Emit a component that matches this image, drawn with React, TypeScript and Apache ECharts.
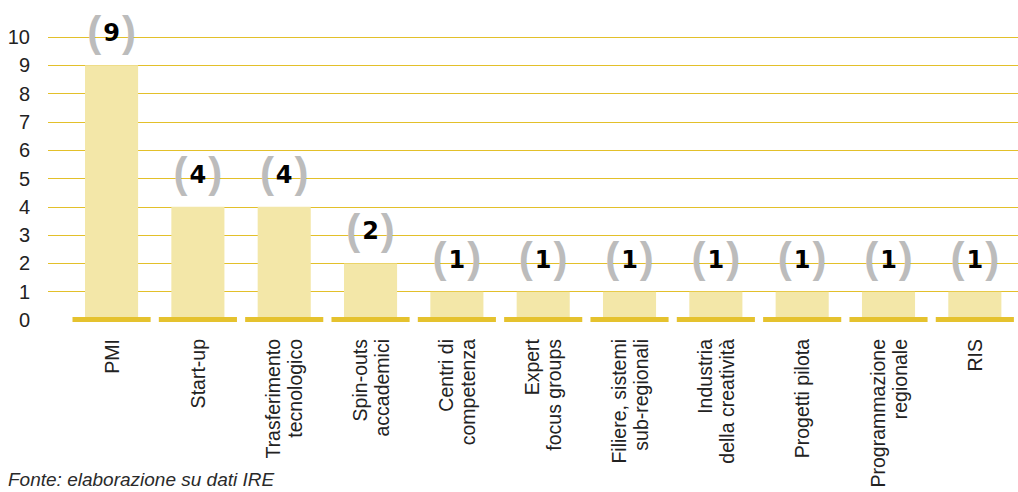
import React, { useEffect, useRef } from "react";
import * as echarts from "echarts";

const categories = [
  "PMI",
  "Start-up",
  "Trasferimento\ntecnologico",
  "Spin-outs\naccademici",
  "Centri di\ncompetenza",
  "Expert\nfocus groups",
  "Filiere, sistemi\nsub-regionali",
  "Industria\ndella creatività",
  "Progetti pilota",
  "Programmazione\nregionale",
  "RIS",
];
const values = [9, 4, 4, 2, 1, 1, 1, 1, 1, 1, 1];
const yTicks = [0, 10];
const footnote = "Fonte: elaborazione su dati IRE";

const FONT = "'Liberation Sans', Arial, Helvetica, sans-serif";

export default function App() {
  const ref = useRef<HTMLDivElement>(null);
  useEffect(() => {
    document.body.style.margin = "0";
    const chart = echarts.init(ref.current!, undefined, { renderer: "svg" });
    const top = 37;
    const bottom = 172;
    chart.setOption({
      animation: false,
      textStyle: { fontFamily: FONT },
      grid: [
        { left: 68.4, width: 960, top, bottom, containLabel: false },
        { left: 48, right: 0, top, bottom, containLabel: false },
      ],
      xAxis: [
        {
          type: "category",
          data: categories,
          gridIndex: 0,
          axisLine: { show: false },
          axisTick: { show: false },
          splitLine: { show: false },
          axisLabel: {
            rotate: 90,
            margin: 19,
            fontSize: 19.5,
            lineHeight: 22,
            color: "#222",
            fontFamily: FONT,
            interval: 0,
          },
        },
        { type: "value", gridIndex: 1, show: false, min: 0, max: 1, splitLine: { show: false } },
      ],
      yAxis: [
        {
          type: "value",
          gridIndex: 0,
          min: yTicks[0],
          max: yTicks[1],
          interval: 1,
          show: false,
          splitLine: { show: false },
        },
        {
          type: "value",
          gridIndex: 1,
          min: yTicks[0],
          max: yTicks[1],
          interval: 1,
          axisLine: { show: false },
          axisTick: { show: false },
          axisLabel: {
            margin: 18,
            fontSize: 20,
            color: "#222",
            fontFamily: FONT,
          },
          splitLine: {
            lineStyle: { color: "#e3c02a", width: 1 },
            showMinLine: false,
          },
        },
      ],
      series: [
        {
          type: "bar",
          xAxisIndex: 0,
          yAxisIndex: 0,
          data: values,
          barWidth: "61.5%",
          itemStyle: { color: "#f3e7a8" },
          z: 3,
          label: {
            show: true,
            position: "top",
            distance: 13,
            formatter: (p: any) => `{p|(}{n|${p.value}}{p|)}`,
            rich: {
              p: {
                fontSize: 42,
                color: "#bcbcbc",
                fontFamily: FONT,
                fontWeight: "bold",
                padding: [0, 2, 0, 2],
              },
              n: {
                fontSize: 24,
                fontWeight: "bold",
                color: "#000",
                fontFamily: "'DejaVu Sans', " + FONT,
                padding: [4, 0, 0, 0],
              },
            },
          },
        },
        {
          type: "custom",
          xAxisIndex: 0,
          yAxisIndex: 0,
          data: values.map((_, i) => [i, 0]),
          z: 5,
          clip: false,
          renderItem: (params: any, api: any) => {
            const pt = api.coord([api.value(0), 0]);
            const w = api.size([1, 0])[0] * 0.905;
            return {
              type: "rect",
              shape: { x: pt[0] - w / 2, y: pt[1] - 3, width: w, height: 5 },
              style: { fill: "#e5c22e" },
            };
          },
        },
      ],
      graphic: [
        {
          type: "text",
          left: 8,
          top: 470,
          style: {
            text: footnote,
            font: `italic 19px ${FONT}`,
            fill: "#2a2a2a",
          },
        },
      ],
    });
    return () => chart.dispose();
  }, []);
  return (
    <div
      ref={ref}
      style={{ position: "absolute", left: 0, top: 0, width: 1018, height: 492 }}
    />
  );
}
